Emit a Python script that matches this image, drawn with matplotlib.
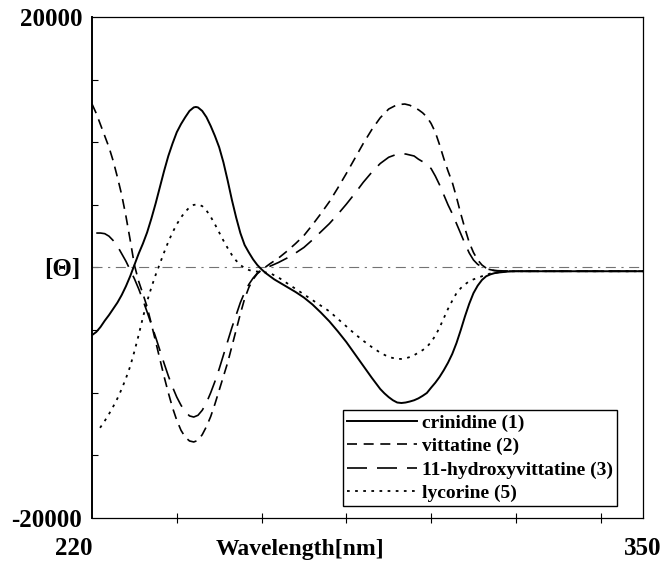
import matplotlib
matplotlib.use("Agg")
import matplotlib.pyplot as plt
from matplotlib.ticker import MultipleLocator

# CD spectra (wavelength in nm, [theta])
wl_crinidine = [220, 221, 222, 223, 224, 225, 226, 227, 228, 229, 230, 231, 232, 233, 234, 235,
                236, 237, 238, 239, 240, 241, 242, 243, 244, 244.5, 245, 246, 247, 248, 249, 250,
                251, 252, 253, 254, 255, 256, 257, 258, 259, 260, 261, 262, 263, 264, 266, 268,
                270, 272, 274, 276, 278, 280, 282, 284, 286, 288, 289, 290, 291, 292, 293, 294,
                295, 296, 297, 298, 299, 300, 301, 302, 303, 304, 305, 306, 307, 308, 309, 310,
                311, 312, 313, 314, 315, 316, 318, 320, 350]
th_crinidine = [-5400, -5150, -4750, -4250, -3800, -3300, -2800, -2200, -1500, -700, 200, 1100,
                1900, 2800, 3900, 5100, 6400, 7700, 8900, 9900, 10800, 11450, 12000, 12500,
                12780, 12815, 12780, 12500, 12000, 11300, 10500, 9600, 8400, 6950, 5400, 4000,
                2750, 1800, 1200, 650, 200, -150, -450, -700, -950, -1150, -1550, -1950,
                -2400, -2950, -3600, -4300, -5100, -5950, -6900, -7850, -8800, -9700, -10050, -10350,
                -10600, -10780, -10820, -10780, -10700, -10600, -10450, -10250, -10020, -9600, -9200, -8740,
                -8200, -7600, -6900, -6030, -5000, -3900, -2900, -2050, -1450, -1000, -700, -550,
                -450, -400, -330, -300, -300]

wl_vittatine = [220, 221, 222, 223, 224, 225, 226, 227, 228, 229, 230, 231, 232, 233, 234, 235,
                236, 237, 238, 239, 240, 241, 242, 243, 244, 245, 246, 247, 248, 249, 250, 251,
                252, 253, 254, 255, 256, 257, 258, 259, 260, 261, 262, 264, 266, 268, 270, 272,
                274, 276, 278, 280, 282, 284, 286, 288, 290, 292, 293.8, 295, 296, 297, 298, 299,
                300, 301, 302, 303, 304, 305, 306, 307, 308, 309, 310, 311, 312, 313, 314, 316,
                320, 350]
th_vittatine = [13050, 12300, 11400, 10500, 9600, 8500, 7200, 5800, 4100, 2200, 200, -1100,
                -2100, -3150, -4500, -5900, -7300, -8700, -10000, -11200, -12200, -13000, -13550, -13850,
                -13930, -13800, -13350, -12700, -11900, -10900, -9800, -8700, -7600, -6300, -5000, -3700,
                -2500, -1600, -950, -500, -200, 50, 300, 750, 1300, 1900, 2550, 3400,
                4300, 5250, 6350, 7500, 8700, 9900, 11000, 11950, 12650, 13000, 13050, 12950,
                12750, 12600, 12350, 12020, 11500, 10800, 9800, 8700, 7700, 6800, 5600, 4300,
                3100, 2000, 1200, 600, 200, -50, -200, -280, -300, -300]

wl_hydroxy = [221, 222, 223, 224, 225, 226, 227, 228, 229, 230, 231, 232, 233, 234, 235, 236,
              237, 238, 239, 240, 241, 242, 243, 244, 245, 246, 247, 248, 249, 250, 251, 252,
              253, 254, 255, 256, 257, 258, 259, 260, 262, 264, 266, 268, 270, 272, 274, 276,
              278, 280, 282, 284, 286, 288, 290, 292, 294, 296, 297, 298, 299, 300, 301, 302,
              303, 304, 305, 306, 307, 308, 309, 310, 311, 312, 313, 315, 320, 350]
th_hydroxy = [2750, 2750, 2700, 2500, 2150, 1700, 1100, 500, -200, -900, -1700, -2600,
              -3550, -4550, -5550, -6600, -7650, -8650, -9550, -10350, -11000, -11500, -11850, -11940,
              -11800, -11400, -10800, -10000, -9100, -8100, -7000, -5900, -4800, -3800, -2800, -2000,
              -1350, -850, -450, -200, 100, 400, 750, 1150, 1600, 2200, 2850, 3500,
              4250, 5050, 5900, 6800, 7600, 8300, 8800, 9050, 9060, 8900, 8650, 8450,
              8200, 7900, 7300, 6600, 5800, 5000, 4300, 3500, 2700, 1900, 1160, 600,
              250, 50, -100, -250, -300, -300]

wl_lycorine = [221.9, 223, 224, 225, 226, 227, 228, 229, 230, 231, 232, 233, 234, 235, 236, 237,
               238, 239, 240, 241, 242, 243, 244, 245, 246, 247, 248, 249, 250, 251, 252, 253,
               254, 255, 256, 257, 258, 260, 262, 264, 266, 268, 270, 272, 274, 276, 278, 280,
               282, 284, 286, 288, 290, 292, 293, 294, 295, 296, 297, 298, 299, 300, 301, 302,
               303, 304, 305, 306, 307, 308, 309, 310, 312, 314, 316, 318, 350]
th_lycorine = [-12800, -12250, -11700, -11100, -10450, -9700, -8850, -7900, -6700, -5400, -4000, -2700,
               -1600, -600, 300, 1200, 2050, 2800, 3450, 4000, 4450, 4800, 5000, 5030,
               4900, 4550, 4050, 3450, 2800, 2150, 1550, 1000, 550, 200, -50, -200,
               -300, -350, -450, -800, -1250, -1700, -2150, -2600, -3050, -3500, -4100, -4700,
               -5300, -5850, -6350, -6800, -7150, -7300, -7300, -7250, -7150, -7000, -6800, -6600,
               -6350, -5950, -5450, -4800, -4050, -3300, -2650, -2050, -1650, -1350, -1100, -950,
               -700, -480, -380, -300, -300]

labels = ["crinidine (1)", "vittatine (2)", "11-hydroxyvittatine (3)", "lycorine (5)"]

plt.rcParams['font.family'] = ['Liberation Serif', 'DejaVu Serif']
plt.rcParams['font.weight'] = 'bold'
plt.rcParams['axes.unicode_minus'] = False

fig = plt.figure(figsize=(6.63, 5.62), dpi=100)
ax = fig.add_axes([0.1388, 0.0783, 0.831, 0.8915])

ax.axhline(0, color='0.45', lw=0.8, ls=(0, (9, 5, 2, 5)))
ax.plot(wl_crinidine, th_crinidine, color='black', lw=1.4, ls='-', label=labels[0])
ax.plot(wl_vittatine, th_vittatine, color='black', lw=1.2, ls=(0, (6, 4)), label=labels[1])
ax.plot(wl_hydroxy, th_hydroxy, color='black', lw=1.2, ls=(0, (12, 6)), label=labels[2])
ax.plot(wl_lycorine, th_lycorine, color='black', lw=1.3, ls=(0, (1.5, 3)), label=labels[3])

ax.set_xlim(220, 350)
ax.set_ylim(-20000, 20000)
ax.set_xticks([220, 350])
ax.set_yticks([-20000, 20000])
ax.get_xticklabels()[0].set_horizontalalignment('right')
ax.xaxis.set_minor_locator(MultipleLocator(20))
ax.yaxis.set_minor_locator(MultipleLocator(5000))
ax.tick_params(axis='both', which='major', length=0, labelsize=18)
ax.tick_params(axis='x', which='major', pad=14)
ax.tick_params(axis='y', which='major', pad=7)
ax.tick_params(axis='x', which='minor', direction='inout', length=7, width=0.8)
ax.tick_params(axis='y', which='minor', direction='in', length=4, width=0.8)
for s in ax.spines.values():
    s.set_linewidth(0.9)
ax.spines['left'].set_linewidth(1.4)

ax.set_xlabel("Wavelength[nm]", fontsize=17, fontweight='bold')
ax.xaxis.set_label_coords(0.377, -0.042)
ax.set_ylabel("[Θ]", fontsize=18, fontweight='bold', rotation=0, va='center', ha='center')
ax.yaxis.set_label_coords(-0.054, 0.495)

leg = ax.legend(loc='lower right', bbox_to_anchor=(0.953, 0.024), borderaxespad=0,
                fancybox=False, edgecolor='black', framealpha=1,
                prop={'size': 14, 'weight': 'bold'}, handlelength=3.6, handletextpad=0.25,
                labelspacing=0.3, borderpad=0.2)
leg.get_frame().set_linewidth(1.0)

fig.savefig("out.png", dpi=100)
